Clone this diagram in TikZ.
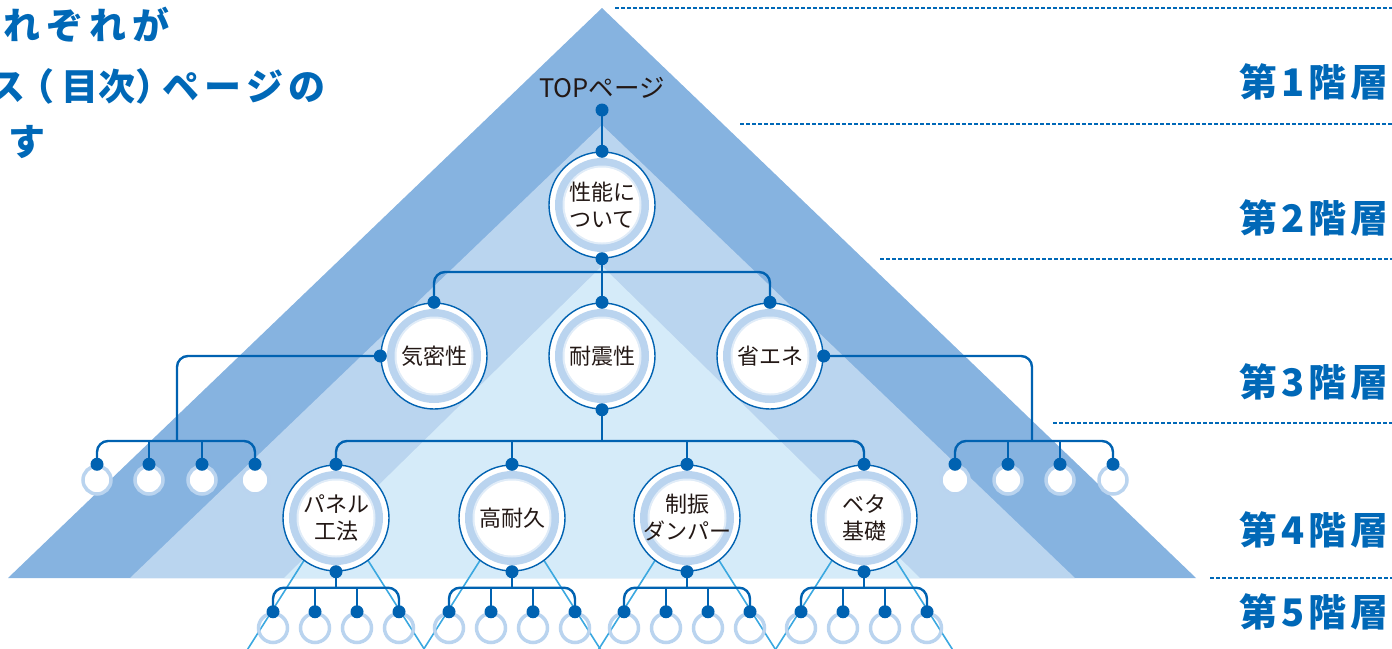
\documentclass[tikz,border=0pt]{standalone}
\usepackage{fontspec}
\setmainfont{Noto Sans CJK JP}
\newfontfamily\tierfont[LetterSpace=10]{Noto Sans CJK JP}
\usepackage{xcolor}
\usetikzlibrary{calc}

\definecolor{triA}{HTML}{86B3E0}
\definecolor{triB}{HTML}{BAD5EF}
\definecolor{triC}{HTML}{D5EBF9}
\definecolor{linkblue}{HTML}{0062B1}
\definecolor{ringblue}{HTML}{BAD4EF}
\definecolor{zigcyan}{HTML}{3BA8E0}
\definecolor{labelblue}{HTML}{0068B7}
\definecolor{inkdark}{HTML}{231815}

\begin{document}
\begin{tikzpicture}[x=1pt, y=-1pt,
    conn/.style={draw=linkblue, line width=2.4pt, rounded corners=11pt},
    bigcirc/.style={circle, draw=linkblue, line width=1.4pt, fill=white,
      minimum size=106pt, inner sep=0pt, text=inkdark, align=center,
      font=\fontsize{22}{27}\selectfont,
      path picture={
        \fill[ringblue] (path picture bounding box.center) circle (47pt);
        \fill[ringblue!45] (path picture bounding box.center) circle (39.5pt);
        \fill[white] (path picture bounding box.center) circle (37.5pt);}},
    sidering/.style={circle, draw=ringblue, line width=3.5pt, fill=white,
      minimum size=28pt, inner sep=0pt},
    leafring/.style={circle, draw=ringblue, line width=3.5pt,
      minimum size=29pt, inner sep=0pt},
    tier/.style={anchor=east, text=labelblue, font=\tierfont\fontsize{38}{38}\selectfont\bfseries},
    intro/.style={anchor=west, inner sep=0pt, text=labelblue, font=\fontsize{37}{37}\selectfont\bfseries},
    zig/.style={draw=zigcyan, line width=1.6pt},
    guide/.style={draw=labelblue, line width=1.5pt, dash pattern=on 3.5pt off 2.5pt}
  ]
        \useasboundingbox (0,0) rectangle (1392,648);
        % stacked triangles
        \fill[triA] (602,8) -- (1196,578) -- (8,578) -- cycle;
        \fill[triB] (602,125) -- (1075,578) -- (130,578) -- cycle;
        \fill[triC] (602,266) -- (920,578) -- (284,578) -- cycle;
        % level guides
        \draw[guide] (615,8) -- (1392,8);
        \draw[guide] (740,124) -- (1392,124);
        \draw[guide] (880,259) -- (1392,259);
        \draw[guide] (1053,423) -- (1392,423);
        \draw[guide] (1210,578) -- (1392,578);
        % small triangles under level 4
        \foreach \x in {336,512,687,864}
          \draw[zig] (\x-92,655) -- (\x,510) -- (\x+92,655);

        \node (toppage) at (602,88) [text=inkdark, font=\fontsize{25.5}{26}\selectfont] {TOPページ};
        \coordinate (topdot) at (602,110);
        \node[bigcirc] (seino) at (602,205) {性能に\\ついて};
        \node[bigcirc] (kimitsu) at (434,356) {気密性};
        \node[bigcirc] (taishin) at (602,356) {耐震性};
        \node[bigcirc] (shoene) at (770,356) {省エネ};
        \node[bigcirc] (panel) at (336,518) {パネル\\工法};
        \node[bigcirc] (kotaikyu) at (512,518) {高耐久};
        \node[bigcirc] (seishin) at (687,518) {制振\\ダンパー};
        \node[bigcirc] (beta) at (864,518) {ベタ\\基礎};

        \foreach \i/\x in {1/97,2/149,3/202,4/255}
          \node[sidering] (kl\i) at (\x,480) {};
        \foreach \i/\x in {1/955,2/1008,3/1060,4/1113}
          \node[sidering] (sr\i) at (\x,480) {};
        \foreach \p in {panel,kotaikyu,seishin,beta}
          \foreach \i/\dx in {1/-63,2/-21,3/21,4/63}
            \node[leafring] (\p\i) at ($(\p.center)+(\dx,110)$) {};

        % level 1 -> 3
        \draw[conn] (topdot) -- (seino.north);
        \coordinate (bar3) at (602,272);
        \draw[conn] (kimitsu.north) |- (bar3) -| (shoene.north);
        \draw[conn] (seino.south) -- (taishin.north);
        % level 3 -> 4
        \coordinate (kbar) at (177,441);
        \draw[conn] (kimitsu.west) -| (kbar);
        \draw[conn] (kl1.north) |- (kbar) -| (kl4.north);
        \draw[conn] (kl2.north) -- (kl2.north |- kbar);
        \draw[conn] (kl3.north) -- (kl3.north |- kbar);
        \coordinate (sbar) at (1032,441);
        \draw[conn] (shoene.east) -| (sbar);
        \draw[conn] (sr1.north) |- (sbar) -| (sr4.north);
        \draw[conn] (sr2.north) -- (sr2.north |- sbar);
        \draw[conn] (sr3.north) -- (sr3.north |- sbar);
        \coordinate (tbar) at (602,441);
        \draw[conn] (taishin.south) -- (tbar);
        \draw[conn] (panel.north) |- (tbar) -| (beta.north);
        \draw[conn] (kotaikyu.north) -- (kotaikyu.north |- tbar);
        \draw[conn] (seishin.north) -- (seishin.north |- tbar);
        % level 4 -> 5
        \foreach \p in {panel,kotaikyu,seishin,beta} {
          \coordinate (\p-bar) at ($(\p.south)+(0,16)$);
          \draw[conn] (\p.south) -- (\p-bar);
          \draw[conn] (\p1.north) |- (\p-bar) -| (\p4.north);
          \draw[conn] (\p2.north) -- (\p2.north |- \p-bar);
          \draw[conn] (\p3.north) -- (\p3.north |- \p-bar);
        }

        % dots
        \fill[linkblue] (topdot) circle (6.5pt);
        \foreach \a in {seino.north, seino.south, kimitsu.north, kimitsu.west,
                        taishin.north, taishin.south, shoene.north, shoene.east}
          \fill[linkblue] (\a) circle (6.5pt);
        \foreach \i in {1,...,4}
          \fill[linkblue] (kl\i.north) circle (6.5pt) (sr\i.north) circle (6.5pt);
        \foreach \p in {panel,kotaikyu,seishin,beta} {
          \fill[linkblue] (\p.north) circle (6.5pt) (\p.south) circle (6.5pt);
          \foreach \i in {1,...,4}
            \fill[linkblue] (\p\i.north) circle (6.5pt);
        }

        % texts
        \node[intro] (introa) at (3,25) {れ\kern6pt ぞ\kern6pt れ\kern6pt が};
        \node[intro] (introb) at (-12,86) {ス\kern-8pt（\kern7pt 目次）\kern-10pt ペ\kern5pt ー\kern5pt ジ\kern5pt の};
        \node[intro] (introc) at (8,142) {す};
        \node[tier] (tier1) at (1392,82) {第1階層};
        \node[tier] (tier2) at (1392,218) {第2階層};
        \node[tier] (tier3) at (1392,382) {第3階層};
        \node[tier] (tier4) at (1392,530) {第4階層};
        \node[tier] (tier5) at (1392,612) {第5階層};
\end{tikzpicture}
\end{document}
